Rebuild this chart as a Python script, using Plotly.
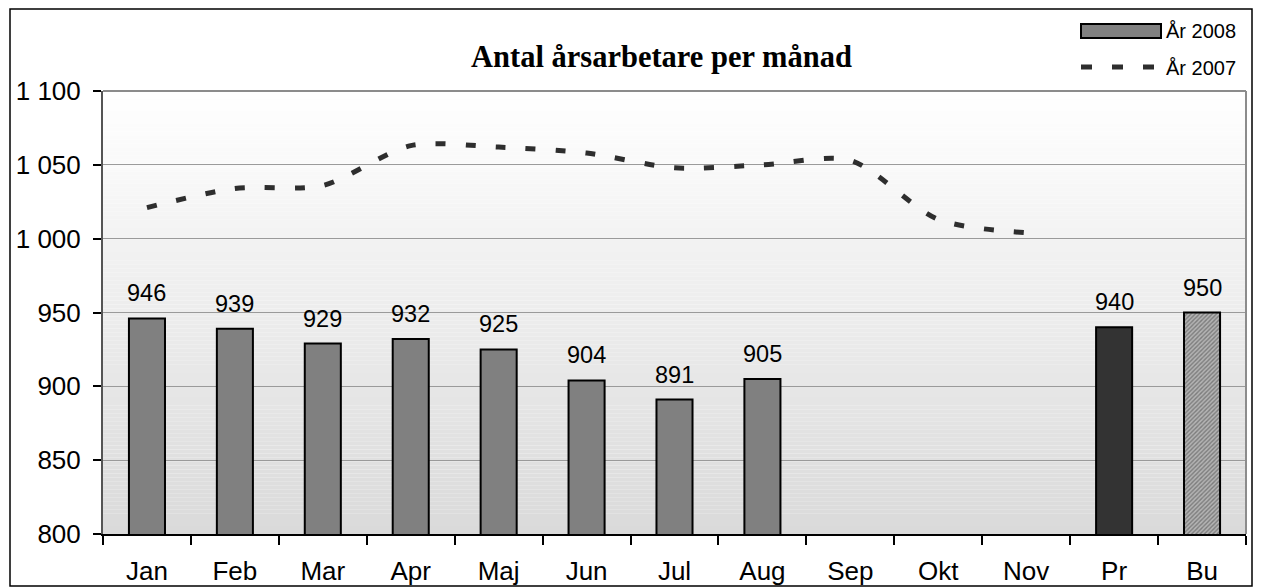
import plotly.graph_objects as go

# ---- data ----
categories = ["Jan", "Feb", "Mar", "Apr", "Maj", "Jun", "Jul", "Aug", "Sep", "Okt", "Nov", "Pr", "Bu"]
months_2008 = ["Jan", "Feb", "Mar", "Apr", "Maj", "Jun", "Jul", "Aug"]
values_2008 = [946, 939, 929, 932, 925, 904, 891, 905]
extra_cats = ["Pr", "Bu"]
extra_vals = [940, 950]
months_2007 = ["Jan", "Feb", "Mar", "Apr", "Maj", "Jun", "Jul", "Aug", "Sep", "Okt", "Nov"]
values_2007 = [1021, 1034, 1036, 1063, 1062, 1058, 1048, 1050, 1053, 1013, 1004]
title_text = "Antal årsarbetare per månad"
legend_2008 = "År 2008"
legend_2007 = "År 2007"

# ---- geometry (pixels) ----
W, H = 1261, 588
L, R, T, B = 103, 1246, 91, 534
pw, ph = R - L, B - T


def px(x):
    return (x - L) / pw


def py(y):
    return (B - y) / ph


FONT = "Liberation Sans, Arial, sans-serif"

fig = go.Figure()

# 2008 months
fig.add_trace(go.Bar(
    x=months_2008, y=values_2008, name=legend_2008,
    marker=dict(color="#808080", line=dict(color="black", width=2)),
    width=0.41, showlegend=False,
))
# Pr (dark) and Bu (hatched)
fig.add_trace(go.Bar(
    x=extra_cats, y=extra_vals,
    marker=dict(
        color=["#333333", "#b4b4b4"],
        line=dict(color="black", width=2),
        pattern=dict(shape=["", "/"], fgcolor="#7a7a7a", bgcolor="#b8b8b8", size=3, solidity=0.45),
    ),
    width=0.41, showlegend=False,
))
# 2007 dashed line
fig.add_trace(go.Scatter(
    x=months_2007, y=values_2007, name=legend_2007, mode="lines",
    line=dict(color="#2e2e2e", width=5, dash="10px,20px", shape="spline", smoothing=0.8),
    showlegend=False,
))

# value labels
for c, v in list(zip(months_2008, values_2008)) + list(zip(extra_cats, extra_vals)):
    fig.add_annotation(x=c, y=v, text=str(v), showarrow=False, yanchor="bottom",
                       yshift=10, font=dict(family=FONT, size=23.5, color="black"))

shapes = []
# gradient background of plot area
N = 110
for i in range(N):
    t = i / (N - 1)
    g = round(255 - t * (255 - 218))
    shapes.append(dict(type="rect", xref="paper", yref="paper",
                       x0=0, x1=1, y0=1 - (i + 1) / N, y1=1 - i / N,
                       fillcolor=f"rgb({g},{g},{g})", line=dict(width=0), layer="below"))
# right border of plot area
shapes.append(dict(type="line", xref="paper", yref="paper", x0=1, x1=1, y0=0, y1=1,
                   line=dict(color="#8c8c8c", width=2)))
# top border
shapes.append(dict(type="line", xref="paper", yref="paper", x0=0, x1=1, y0=1, y1=1,
                   line=dict(color="#8c8c8c", width=2)))
# outer chart border
shapes.append(dict(type="rect", xref="paper", yref="paper",
                   x0=px(10), x1=px(1252), y0=py(586), y1=py(9),
                   line=dict(color="black", width=1.5), fillcolor="rgba(0,0,0,0)"))
# legend swatches
shapes.append(dict(type="rect", xref="paper", yref="paper",
                   x0=px(1081), x1=px(1161), y0=py(38), y1=py(24),
                   fillcolor="#808080", line=dict(color="black", width=2)))
shapes.append(dict(type="line", xref="paper", yref="paper",
                   x0=px(1081), x1=px(1155), y0=py(67), y1=py(67),
                   line=dict(color="#2e2e2e", width=5, dash="11px,20px")))

fig.add_annotation(xref="paper", yref="paper", x=px(1164), y=py(31), xanchor="left", yanchor="middle",
                   text=legend_2008, showarrow=False, font=dict(family=FONT, size=20, color="black"))
fig.add_annotation(xref="paper", yref="paper", x=px(1164), y=py(68), xanchor="left", yanchor="middle",
                   text=legend_2007, showarrow=False, font=dict(family=FONT, size=20, color="black"))
# title
fig.add_annotation(xref="paper", yref="paper", x=px(661), y=py(57), xanchor="center", yanchor="middle",
                   text=f"<b>{title_text}</b>", showarrow=False,
                   font=dict(family="Liberation Serif, Times New Roman, serif", size=30.5, color="black"))

fig.update_layout(
    width=W, height=H, autosize=False,
    margin=dict(l=L, r=W - R, t=T, b=H - B, pad=0, autoexpand=False),
    paper_bgcolor="white", plot_bgcolor="rgba(0,0,0,0)",
    separators=", ",
    shapes=shapes,
    barmode="overlay",
    font=dict(family=FONT, size=26, color="black"),
)
fig.update_xaxes(
    type="category", categoryorder="array", categoryarray=categories,
    range=[-0.5, len(categories) - 0.5], automargin=False,
    showline=True, linecolor="black", linewidth=2,
    ticks="outside", tickson="boundaries", ticklen=9, tickwidth=2, tickcolor="black",
    showgrid=False, tickfont=dict(family=FONT, size=26, color="black"),
    ticklabelstandoff=13,
)
fig.update_yaxes(
    range=[800, 1100], dtick=50, tick0=800, tickformat=",d", automargin=False,
    showline=True, linecolor="#555555", linewidth=2,
    ticks="outside", ticklen=8, tickwidth=1.5, tickcolor="black",
    showgrid=True, gridcolor="#9a9a9a", gridwidth=1,
    zeroline=False, tickfont=dict(family=FONT, size=26, color="black"),
    ticklabelstandoff=7,
)

fig.write_html(
    "out.html",
    config={"displayModeBar": False},
    post_script="document.body.style.margin='0';document.body.style.overflow='hidden';",
)
